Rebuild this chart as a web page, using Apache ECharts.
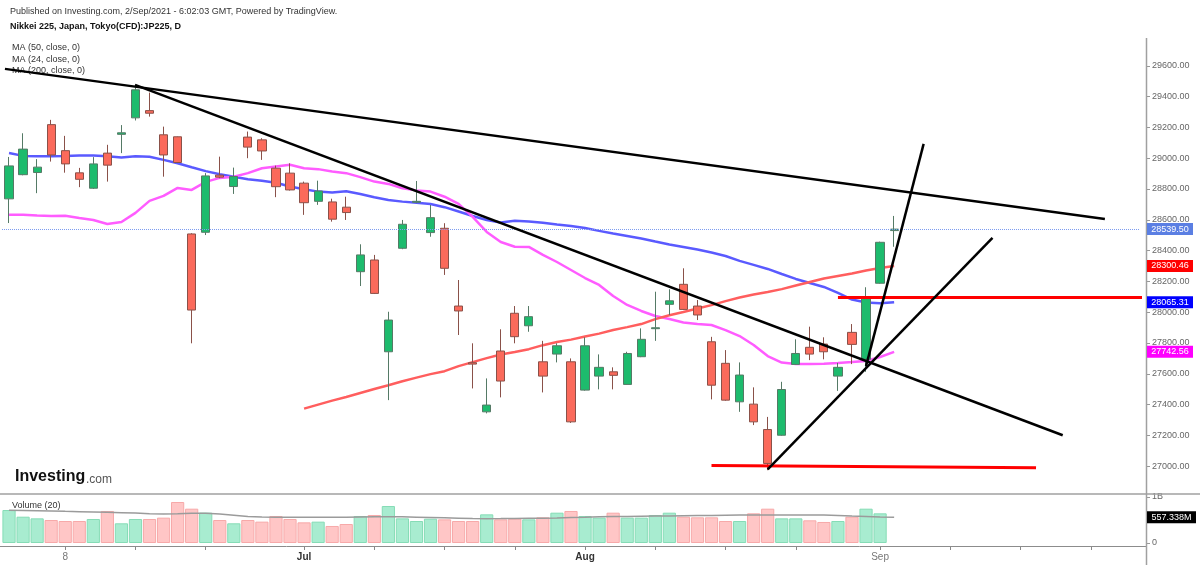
<!DOCTYPE html>
<html>
<head>
<meta charset="utf-8">
<title>Nikkei 225 daily</title>
<script src="https://cdn.jsdelivr.net/npm/echarts@6/dist/echarts.min.js"></script>
<style>
    html, body { margin: 0; padding: 0; background: #fff; }
    #chart { width: 1200px; height: 565px; }
</style>
</head>
<body>
<div id="chart"></div>
<script>
// trading days shown, then empty future slots on the right
var dates = [
    '2021-06-02','2021-06-03','2021-06-04','2021-06-07','2021-06-08','2021-06-09','2021-06-10','2021-06-11',
    '2021-06-14','2021-06-15','2021-06-16','2021-06-17','2021-06-18','2021-06-21','2021-06-22','2021-06-23',
    '2021-06-24','2021-06-25','2021-06-28','2021-06-29','2021-06-30',
    '2021-07-01','2021-07-02','2021-07-05','2021-07-06','2021-07-07','2021-07-08','2021-07-09','2021-07-12',
    '2021-07-13','2021-07-14','2021-07-15','2021-07-16','2021-07-19','2021-07-20','2021-07-21','2021-07-26',
    '2021-07-27','2021-07-28','2021-07-29','2021-07-30',
    '2021-08-02','2021-08-03','2021-08-04','2021-08-05','2021-08-06','2021-08-10','2021-08-11','2021-08-12',
    '2021-08-13','2021-08-16','2021-08-17','2021-08-18','2021-08-19','2021-08-20','2021-08-23','2021-08-24',
    '2021-08-25','2021-08-26','2021-08-27','2021-08-30','2021-08-31',
    '2021-09-01','2021-09-02'
];
var futureDates = [
    '2021-09-03','2021-09-06','2021-09-07','2021-09-08','2021-09-09','2021-09-10','2021-09-13','2021-09-14',
    '2021-09-15','2021-09-16','2021-09-17','2021-09-20','2021-09-21','2021-09-22','2021-09-23','2021-09-24',
    '2021-09-27'
];

var opens = [28736,28893,28907,29218,29049,28905,28805,29033,29155,29262,
    29309,29152,29139,28508,28519,28890,28816,29137,29119,28935,
    28903,28838,28720,28716,28682,28263,28339,27743,28415,28714,
    28517,28545,28040,27672,27353,27748,27993,27912,27678,27728,
    27678,27494,27585,27613,27531,27711,27893,28051,28181,28040,
    27808,27668,27418,27403,27238,27201,27661,27772,27793,27585,
    27869,27694,28188,28530];
var highs = [29008,29162,28994,29249,29145,28937,29007,29087,29215,29478,
    29426,29205,29141,28513,28903,29010,28939,29173,29130,28952,
    28967,28848,28854,28737,28750,28441,28372,28003,28599,28852,
    28696,28578,28209,27798,27570,27889,28040,28040,27814,27798,
    27700,27837,27726,27642,27743,27895,28133,28149,28285,28079,
    27840,27754,27674,27512,27320,27548,27824,27906,27837,27671,
    27923,28162,28458,28625];
var lows = [28579,28889,28773,28978,28906,28812,28800,28848,29033,29245,
    29270,28880,28968,27798,28501,28870,28768,29000,28989,28747,
    28790,28632,28697,28588,28599,28170,28118,27429,28409,28708,
    28490,28242,27852,27505,27343,27447,27798,27873,27479,27674,
    27281,27490,27499,27499,27529,27708,27814,27982,28014,27949,
    27434,27425,27353,27267,26974,27198,27658,27689,27694,27489,
    27663,27613,28185,28425];
var closes = [28950,29059,28942,29021,28963,28863,28963,28955,29165,29444,
    29292,29021,28972,28014,28885,28877,28881,29072,29047,28815,
    28794,28711,28787,28604,28647,28372,28122,27949,28571,28720,
    28614,28285,28008,27663,27397,27553,27841,27971,27585,27782,
    27288,27782,27642,27590,27732,27824,27899,28074,28018,27982,
    27526,27429,27592,27288,27018,27498,27732,27728,27743,27642,
    27791,28094,28454,28539.5];

// moving averages as drawn (MA 200 starts on 1 Jul)
var ma50 = [29034,29015,29013,29013,29015,29018,29017,29013,29005,29013,
    29010,28989,28967,28941,28916,28896,28880,28864,28853,28841,
    28816,28799,28783,28777,28786,28768,28747,28729,28718,28711,
    28703,28682,28654,28625,28599,28583,28594,28589,28581,28570,
    28560,28547,28528,28511,28495,28479,28459,28440,28424,28407,
    28388,28365,28333,28307,28281,28248,28216,28190,28164,28125,
    28082,28063,28058,28065.31];
var ma24 = [28632,28632,28628,28625,28627,28612,28599,28573,28586,28645,
    28723,28755,28807,28794,28846,28872,28880,28903,28935,28946,
    28957,28935,28929,28913,28903,28877,28848,28833,28805,28791,
    28783,28750,28703,28619,28521,28456,28425,28424,28372,28326,
    28274,28222,28177,28105,28047,28008,27975,27956,27933,27923,
    27917,27884,27845,27787,27715,27673,27663,27663,27666,27670,
    27676,27683,27709,27742.56];
var ma200 = ['-','-','-','-','-','-','-','-','-','-',
    '-','-','-','-','-','-','-','-','-','-',
    '-',27374,27400,27426,27449,27475,27501,27526,27552,27575,
    27598,27617,27650,27676,27702,27725,27741,27760,27786,27806,
    27822,27842,27861,27884,27903,27923,27955,27980,28001,28024,
    28046,28072,28095,28115,28131,28150,28173,28196,28219,28235,
    28251,28271,28287,28300.46];

// volume in millions and its 20-day average
var volumes = [717,572,536,500,478,478,522,696,428,522,
    522,551,891,746,659,500,428,500,464,587,
    522,449,464,370,413,587,609,804,536,478,
    529,514,478,478,623,514,529,514,558,659,
    696,587,551,659,551,551,609,659,572,558,
    558,478,478,645,746,536,536,493,457,478,
    572,746,645,0];
var volumeMA = [710,705,700,695,688,682,675,668,660,650,
    635,628,635,645,645,630,605,575,565,562,
    560,560,560,560,560,565,570,572,568,562,
    555,548,540,532,528,530,535,538,540,545,
    552,558,570,575,578,582,585,588,592,596,
    600,603,606,608,609,609,609,608,606,600,
    585,575,565,557.338];

// x axis ticks (category index) and the few labelled ones
var tickIdx = [4, 9, 14, 21, 26, 31, 36, 41, 46, 51, 56, 62, 67, 72, 77];
var tickText = { 4: '8', 21: 'Jul', 41: 'Aug', 62: 'Sep' };
var boldTicks = ['Jul', 'Aug'];

// hand drawn lines, [slot index, price]
var blackLines = [
    [[-0.29, 29580], [78.0, 28605]],
    [[8.97, 29476], [75.0, 27201]],
    [[54.0, 26980], [70.0, 28482]],
    [[61.0, 27650], [65.1, 29093]]
];
var redLines = [
    [[50.0, 27004], [73.1, 26990]],
    [[59.0, 28095], [80.93, 28095]]
];

// coloured value tags on the right scale
var tagValues = [28539.50, 28300.46, 28065.31, 27742.56, 557.338];
var tagTexts = ['28539.50', '28300.46', '28065.31', '27742.56', '557.338M'];
var tagColors = ['#5b7fe3', '#ff0000', '#0000ff', '#ff00ff', '#000000'];
var tagAxis = [0, 0, 0, 0, 1];

var allDates = dates.concat(futureDates);
var FONT = '"Liberation Sans", Arial, sans-serif';

var candles = dates.map(function (d, i) {
    return [opens[i], closes[i], lows[i], highs[i]];
});
var volData = volumes.map(function (v, i) {
    var up = closes[i] >= opens[i];
    return {
        value: v,
        itemStyle: {
            color: up ? '#a8ecd0' : '#ffc6c6',
            borderColor: up ? '#86dcb6' : '#f7a9a9',
            borderWidth: v > 0 ? 1 : 0
        }
    };
});

function lineSeries(data, color, width, z) {
    return {
        type: 'line', xAxisIndex: 1, yAxisIndex: 0, data: data,
        symbol: 'none', silent: true, z: z, clip: false,
        lineStyle: { color: color, width: width }
    };
}

function maSeries(data, color) {
    return {
        type: 'line', xAxisIndex: 0, yAxisIndex: 0, data: data,
        symbol: 'none', silent: true, z: 1,
        lineStyle: { color: color, width: 2.5 }
    };
}

var chart = echarts.init(document.getElementById('chart'));

var series = [
    maSeries(ma50, '#5a5aff'),
    maSeries(ma24, '#ff5cff'),
    maSeries(ma200, '#ff5e5e'),
    {
        type: 'candlestick', xAxisIndex: 0, yAxisIndex: 0, data: candles,
        barWidth: '62%', z: 3,
        itemStyle: {
            color: '#1dbb6d', color0: '#fb6a5b',
            borderColor: '#557a66', borderColor0: '#8a5149', borderWidth: 1
        },
        markLine: {
            symbol: ['none', 'none'], silent: true, label: { show: false },
            lineStyle: { type: 'dotted', color: '#7d9cf0', width: 1 },
            data: [{ yAxis: closes[closes.length - 1] }]
        }
    },
    {
        type: 'bar', xAxisIndex: 2, yAxisIndex: 1, data: volData,
        barWidth: '94%', silent: true
    },
    {
        type: 'line', xAxisIndex: 2, yAxisIndex: 1, data: volumeMA,
        symbol: 'none', silent: true, z: 4,
        lineStyle: { color: '#9b9b9b', width: 1.5 }
    }
];
blackLines.forEach(function (l) { series.push(lineSeries(l, '#000000', 2.5, 10)); });
redLines.forEach(function (l) { series.push(lineSeries(l, '#ff0000', 3, 9)); });

var option = {
    animation: false,
    backgroundColor: '#ffffff',
    textStyle: { fontFamily: FONT },
    grid: [
        { left: 2, width: 1138, top: 35, height: 462 },
        { left: 2, width: 1138, top: 497, height: 46 }
    ],
    xAxis: [
        {
            type: 'category', gridIndex: 0, data: allDates, boundaryGap: true,
            axisLine: { show: false, onZero: false }, axisTick: { show: false }, axisLabel: { show: false }
        },
        { type: 'value', gridIndex: 0, min: -0.5, max: 80.5, show: false, axisLine: { onZero: false } },
        {
            type: 'category', gridIndex: 1, data: allDates, boundaryGap: true, offset: 3,
            axisLine: { show: false, onZero: false },
            axisTick: {
                show: true, alignWithLabel: true, length: 4,
                lineStyle: { color: '#888' },
                interval: function (index) { return tickIdx.indexOf(index) >= 0; }
            },
            axisLabel: {
                margin: 6, fontSize: 10, color: '#777',
                interval: function (index) { return tickText[index] !== undefined; },
                formatter: function (value, index) {
                    var t = tickText[index] || '';
                    return boldTicks.indexOf(t) >= 0 ? '{b|' + t + '}' : t;
                },
                rich: { b: { fontWeight: 'bold', color: '#333', fontSize: 10 } }
            }
        }
    ],
    yAxis: [
        {
            type: 'value', gridIndex: 0, position: 'right', offset: 6,
            min: 26800, max: 29800, interval: 200,
            splitLine: { show: false }, axisLine: { show: false, onZero: false },
            axisTick: { show: true, length: 4, lineStyle: { color: '#999' } },
            axisLabel: {
                margin: 6, fontSize: 9, color: '#666',
                formatter: function (v) {
                    return (v <= 26800 || v >= 29800) ? '' : v.toFixed(2);
                }
            }
        },
        {
            type: 'value', gridIndex: 1, position: 'right', offset: 6,
            min: 0, max: 1000, interval: 1000,
            splitLine: { show: false }, axisLine: { show: false, onZero: false },
            axisTick: { show: true, length: 4, lineStyle: { color: '#999' } },
            axisLabel: {
                margin: 6, fontSize: 9, color: '#666',
                formatter: function (v) { return v >= 1000 ? '1B' : '0'; }
            }
        }
    ],
    series: series
};
chart.setOption(option);

// frame lines, captions and value tags
var graphics = [
    { type: 'rect', shape: { x: 1140, y: 28, width: 20, height: 9 }, style: { fill: '#ffffff' }, z: 45 },
    { type: 'line', shape: { x1: 0, y1: 494, x2: 1200, y2: 494 }, style: { stroke: '#a0a0a0', lineWidth: 1.5 }, z: 50 },
    { type: 'line', shape: { x1: 0, y1: 546.5, x2: 1146, y2: 546.5 }, style: { stroke: '#8c8c8c', lineWidth: 1 }, z: 50 },
    { type: 'line', shape: { x1: 1146.5, y1: 38, x2: 1146.5, y2: 565 }, style: { stroke: '#a0a0a0', lineWidth: 1.5 }, z: 50 },
    { type: 'text', x: 10, y: 12, style: { text: 'Published on Investing.com, 2/Sep/2021 - 6:02:03 GMT, Powered by TradingView.', font: '9px ' + FONT, fill: '#333', verticalAlign: 'middle' } },
    { type: 'text', x: 10, y: 27, style: { text: 'Nikkei 225, Japan, Tokyo(CFD):JP225, D', font: 'bold 9px ' + FONT, fill: '#111', verticalAlign: 'middle' } },
    { type: 'text', x: 12, y: 48, style: { text: 'MA (50, close, 0)', font: '9px ' + FONT, fill: '#333', verticalAlign: 'middle' } },
    { type: 'text', x: 12, y: 60, style: { text: 'MA (24, close, 0)', font: '9px ' + FONT, fill: '#333', verticalAlign: 'middle' } },
    { type: 'text', x: 12, y: 71, style: { text: 'MA (200, close, 0)', font: '9px ' + FONT, fill: '#333', verticalAlign: 'middle' } },
    { type: 'text', x: 15, y: 477, style: { text: 'Investing', font: 'bold 16px ' + FONT, fill: '#111', verticalAlign: 'middle' }, z: 60 },
    { type: 'text', x: 86, y: 480, style: { text: '.com', font: '12px ' + FONT, fill: '#555', verticalAlign: 'middle' }, z: 60 },
    { type: 'text', x: 12, y: 506, style: { text: 'Volume (20)', font: '9px ' + FONT, fill: '#333', verticalAlign: 'middle' }, z: 60 }
];
tagValues.forEach(function (v, i) {
    var y = chart.convertToPixel({ yAxisIndex: tagAxis[i] }, v);
    var w = tagAxis[i] === 1 ? 49 : 46;
    graphics.push({ type: 'rect', shape: { x: 1147, y: y - 6, width: w, height: 12 }, style: { fill: tagColors[i] }, z: 70 });
    graphics.push({ type: 'text', x: 1147 + w / 2, y: y, style: { text: tagTexts[i], font: '9px ' + FONT, fill: '#fff', align: 'center', verticalAlign: 'middle' }, z: 71 });
});
chart.setOption({ graphic: graphics });
</script>
</body>
</html>
